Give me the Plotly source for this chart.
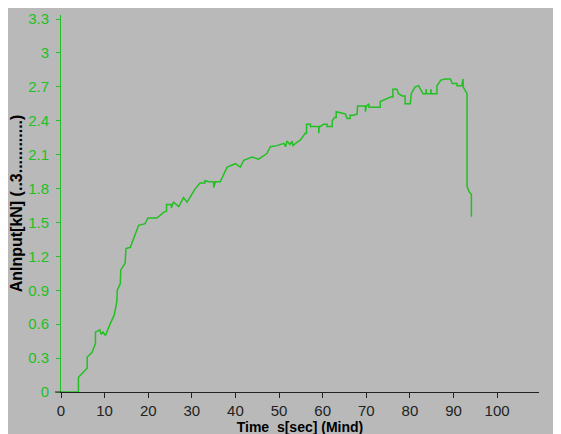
import plotly.graph_objects as go

time_s = [0, 4.0, 4.0, 6.0, 6.0, 7.1, 7.9, 7.9, 8.9, 9.2, 9.6, 10.2, 11.3, 12.2, 12.8, 12.9, 13.6, 13.7,
          14.7, 14.9, 15.9, 17.8, 19.3, 19.9, 22.0, 23.5, 24.2, 24.2, 25.3, 25.3, 25.8, 27.0, 28.1, 28.9,
          30.8, 31.9, 33.0, 33.0, 34.0, 35.0, 35.0, 35.4, 36.5, 38.1, 40.0, 41.1, 41.9, 43.8, 45.3, 47.2,
          48.0, 49.5, 51.1, 51.5, 51.8, 52.5, 53.0, 53.2, 54.1, 54.9, 56.0, 56.3, 56.3, 57.2, 57.2, 59.1,
          59.1, 59.2, 59.5, 60.2, 61.0, 61.0, 62.2, 62.2, 62.7, 63.1, 63.1, 64.8, 65.2, 65.6, 66.3, 66.3,
          67.1, 67.9, 68.0, 69.8, 69.8, 70.0, 70.6, 70.6, 73.2, 73.2, 74.0, 74.4, 75.5, 76.1, 76.1, 77.0,
          77.4, 78.2, 78.9, 78.9, 80.1, 80.3, 81.2, 82.0, 82.4, 83.0, 83.7, 83.7, 83.8, 84.8, 84.8, 84.9,
          86.2, 86.2, 87.1, 88.1, 89.3, 89.7, 90.8, 90.8, 91.9, 92.2, 92.2, 92.7, 93.1, 93.1, 93.6, 94.1,
          94.1]
force_kn = [0, 0, 0.13, 0.21, 0.31, 0.35, 0.43, 0.53, 0.55, 0.51, 0.53, 0.50, 0.605, 0.68, 0.80, 0.90,
            0.96, 1.08, 1.14, 1.27, 1.28, 1.475, 1.49, 1.54, 1.54, 1.59, 1.60, 1.66, 1.66, 1.63, 1.68,
            1.64, 1.72, 1.68, 1.80, 1.85, 1.85, 1.87, 1.86, 1.86, 1.81, 1.86, 1.86, 1.99, 2.02, 1.99,
            2.05, 2.08, 2.06, 2.11, 2.17, 2.18, 2.20, 2.17, 2.22, 2.19, 2.22, 2.18, 2.21, 2.23, 2.29,
            2.29, 2.37, 2.37, 2.35, 2.35, 2.29, 2.35, 2.35, 2.37, 2.37, 2.35, 2.35, 2.40, 2.43, 2.43,
            2.48, 2.46, 2.46, 2.42, 2.42, 2.45, 2.45, 2.46, 2.53, 2.53, 2.48, 2.53, 2.55, 2.52, 2.52,
            2.57, 2.58, 2.59, 2.61, 2.61, 2.68, 2.68, 2.64, 2.62, 2.62, 2.55, 2.55, 2.64, 2.70, 2.71,
            2.68, 2.64, 2.64, 2.68, 2.64, 2.64, 2.68, 2.64, 2.64, 2.71, 2.76, 2.77, 2.77, 2.73, 2.73,
            2.71, 2.71, 2.77, 2.70, 2.67, 2.64, 1.82, 1.77, 1.75, 1.55]

x_ticks = [0, 10, 20, 30, 40, 50, 60, 70, 80, 90, 100]
y_ticks = [0, 0.3, 0.6, 0.9, 1.2, 1.5, 1.8, 2.1, 2.4, 2.7, 3.0, 3.3]
y_tick_labels = ["0", "0.3", "0.6", "0.9", "1.2", "1.5", "1.8", "2.1", "2.4", "2.7", "3", "3.3"]

GREEN = "#22c022"
GRAY = "#b9b9b9"
# the page body adds an 8px margin, so figure coords = page coords - 8
W, H = 561, 434
ML, MR, MT, MB = 53, 30, 7, 50
PW, PH = W - ML - MR, H - MT - MB

fig = go.Figure()
fig.add_trace(go.Scatter(x=time_s, y=force_kn, mode="lines",
                         line=dict(color=GREEN, width=1.5), hoverinfo="skip"))

tick_font = dict(family="Liberation Sans, Arial", size=15)

fig.update_layout(
    width=W, height=H,
    margin=dict(l=ML, r=MR, t=MT, b=MB, pad=0, autoexpand=False),
    paper_bgcolor=GRAY,
    plot_bgcolor=GRAY,
    showlegend=False,
    xaxis=dict(range=[0, 109.6], tickvals=x_ticks, ticks="outside", ticklen=5,
               tickcolor="#222222", showline=True, linecolor="#222222", linewidth=1,
               showgrid=False, zeroline=False, automargin=False,
               tickfont=dict(color="#222222", **tick_font), ticklabelstandoff=0,
               title=dict(text="Time  s[sec] (Mind)", standoff=4,
                          font=dict(family="Liberation Sans, Arial", size=14, color="black", weight="bold"))),
    yaxis=dict(range=[0, 3.336], tickvals=y_ticks, ticktext=y_tick_labels, ticks="outside", ticklen=4,
               tickcolor=GREEN, showline=True, linecolor=GREEN, linewidth=1,
               showgrid=False, zeroline=False, automargin=False,
               tickfont=dict(color=GREEN, **tick_font), ticklabelstandoff=4,
               title=dict(text="AnInput[kN] (..3............)", standoff=2,
                          font=dict(family="Liberation Sans, Arial", size=16, color="black", weight="bold"))),
    shapes=[
        dict(type="line", xref="paper", yref="paper",
             x0=-6 / PW, x1=0, y0=0, y1=0,
             line=dict(color="#222222", width=1)),
    ],
)

fig.write_html("out.html")
